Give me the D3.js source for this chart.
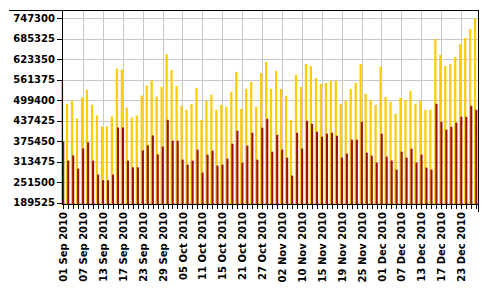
<!DOCTYPE html>
<html>
<head>
<meta charset="utf-8">
<script src="https://cdn.jsdelivr.net/npm/d3@7/dist/d3.min.js"></script>
<style>
  body { margin: 0; background: #fff; }
  svg text { font-family: "DejaVu Sans", sans-serif; font-weight: bold; font-size: 10px; fill: #000; }
</style>
</head>
<body>
<div id="chart"></div>
<script>
/***** Données *****/
var dates = [
  "01 Sep 2010", "02 Sep 2010", "03 Sep 2010", "06 Sep 2010", "07 Sep 2010", "08 Sep 2010", "09 Sep 2010", "10 Sep 2010",
  "13 Sep 2010", "14 Sep 2010", "15 Sep 2010", "16 Sep 2010", "17 Sep 2010", "20 Sep 2010", "21 Sep 2010", "22 Sep 2010",
  "23 Sep 2010", "24 Sep 2010", "27 Sep 2010", "28 Sep 2010", "29 Sep 2010", "30 Sep 2010", "01 Oct 2010", "04 Oct 2010",
  "05 Oct 2010", "06 Oct 2010", "07 Oct 2010", "08 Oct 2010", "11 Oct 2010", "12 Oct 2010", "13 Oct 2010", "14 Oct 2010",
  "15 Oct 2010", "18 Oct 2010", "19 Oct 2010", "20 Oct 2010", "21 Oct 2010", "22 Oct 2010", "25 Oct 2010", "26 Oct 2010",
  "27 Oct 2010", "28 Oct 2010", "29 Oct 2010", "01 Nov 2010", "02 Nov 2010", "03 Nov 2010", "08 Nov 2010", "09 Nov 2010",
  "10 Nov 2010", "11 Nov 2010", "12 Nov 2010", "13 Nov 2010", "15 Nov 2010", "16 Nov 2010", "17 Nov 2010", "18 Nov 2010",
  "19 Nov 2010", "22 Nov 2010", "23 Nov 2010", "24 Nov 2010", "25 Nov 2010", "26 Nov 2010", "29 Nov 2010", "30 Nov 2010",
  "01 Dec 2010", "02 Dec 2010", "03 Dec 2010", "06 Dec 2010", "07 Dec 2010", "08 Dec 2010", "09 Dec 2010", "10 Dec 2010",
  "13 Dec 2010", "14 Dec 2010", "15 Dec 2010", "16 Dec 2010", "17 Dec 2010", "20 Dec 2010", "21 Dec 2010", "22 Dec 2010",
  "23 Dec 2010", "24 Dec 2010", "27 Dec 2010", "28 Dec 2010"
];

// série jaune (haute)
var valeursHautes = [
  560700, 488300, 498300, 443900, 507300, 531500, 485300, 453000, 419800, 419800, 450000, 594800,
  591800, 477100, 447000, 453000, 513400, 543500, 558600, 510300, 539600, 639200, 590900, 542600,
  482300, 470200, 488300, 536600, 440000, 497400, 515500, 470200, 485300, 479300, 524500, 584900,
  473200, 533600, 554700, 479300, 581900, 615100, 533600, 587900, 533600, 512500, 440000, 575800,
  539600, 609000, 603000, 566800, 548700, 551700, 557700, 557700, 488300, 497400, 533600, 551700,
  609000, 518500, 500400, 485300, 600000, 509400, 494300, 458100, 506400, 500400, 527500, 488300,
  497400, 470200, 470200, 684500, 636200, 603000, 609000, 630200, 669400, 687500, 714700, 747300
];

// série rouge (basse)
var valeursBasses = [
  374500, 316300, 332300, 292100, 353400, 371500, 316300, 274000, 256800, 256800, 274000, 416800,
  416800, 316300, 296100, 296100, 347400, 362500, 392600, 335300, 358500, 440000, 376600, 376600,
  319300, 304200, 316300, 349500, 280100, 334400, 346500, 301200, 304200, 322300, 367600, 406800,
  310200, 361600, 400800, 319300, 415900, 443000, 343400, 394700, 349500, 325300, 271000, 400800,
  352500, 437000, 427900, 403800, 388700, 397800, 400800, 391700, 325300, 337400, 379700, 379700,
  434000, 340400, 331400, 310200, 397800, 328400, 316300, 289100, 343400, 325300, 352500, 310200,
  334400, 295200, 289100, 488300, 434000, 409800, 418900, 431000, 449100, 449100, 482300, 470200
];

var yTicks = [189525, 251500, 313475, 375450, 437425, 499400, 561375, 623350, 685325, 747300];

(function () {
  "use strict";

  /***** Configuration *****/
  var width = 495, height = 300;
  var plot = { left: 62, right: 478, top: 10, bottom: 204 };
  var labelEvery = 4;

  var svg = d3.select("#chart")
    .append("svg")
    .attr("width", width)
    .attr("height", height);

  var xScale = d3.scaleBand()
    .domain(dates)
    .range([61, 479]);

  var yScale = d3.scaleLinear()
    .domain([189525, 772400])
    .range([202.5, plot.top]);

  var step = xScale.step();

  /***** Grille *****/
  svg.append("g")
    .selectAll("line")
    .data(yTicks)
    .enter()
    .append("line")
    .attr("x1", plot.left)
    .attr("x2", plot.right)
    .attr("y1", function (d) { return Math.round(yScale(d)) + 0.5; })
    .attr("y2", function (d) { return Math.round(yScale(d)) + 0.5; })
    .attr("stroke", "#c8c8c8");

  svg.append("g")
    .selectAll("line")
    .data(dates.filter(function (d, i) { return i > 0 && i % labelEvery === 0; }))
    .enter()
    .append("line")
    .attr("x1", function (d) { return Math.round(xScale(d) + 2) + 0.5; })
    .attr("x2", function (d) { return Math.round(xScale(d) + 2) + 0.5; })
    .attr("y1", plot.top)
    .attr("y2", plot.bottom)
    .attr("stroke", "#c8c8c8");

  /***** Barres *****/
  svg.append("g")
    .selectAll("rect")
    .data(dates)
    .enter()
    .append("rect")
    .attr("x", function (d) { return xScale(d); })
    .attr("width", step * 0.44)
    .attr("y", function (d, i) { return yScale(valeursHautes[i]); })
    .attr("height", function (d, i) { return plot.bottom - yScale(valeursHautes[i]); })
    .attr("fill", "#ffcc00");

  svg.append("g")
    .selectAll("rect")
    .data(dates)
    .enter()
    .append("rect")
    .attr("x", function (d) { return xScale(d) + step * 0.24; })
    .attr("width", step * 0.42)
    .attr("y", function (d, i) { return yScale(valeursBasses[i]); })
    .attr("height", function (d, i) { return plot.bottom - yScale(valeursBasses[i]); })
    .attr("fill", "#991100");

  /***** Axes et cadre *****/
  var cadre = svg.append("g").attr("stroke", "#000").attr("fill", "none");
  cadre.append("line").attr("x1", 9).attr("x2", plot.right + 0.5).attr("y1", plot.top + 0.5).attr("y2", plot.top + 0.5);
  cadre.append("line").attr("x1", plot.left + 0.5).attr("x2", plot.left + 0.5).attr("y1", plot.top).attr("y2", plot.bottom);
  cadre.append("line").attr("x1", plot.right + 0.5).attr("x2", plot.right + 0.5).attr("y1", plot.top).attr("y2", 212);
  cadre.append("line").attr("x1", plot.left).attr("x2", plot.right).attr("y1", plot.bottom + 0.5).attr("y2", plot.bottom + 0.5);

  // axe Y (étiquettes à gauche)
  var axeY = svg.append("g");
  axeY.selectAll("line")
    .data(yTicks)
    .enter()
    .append("line")
    .attr("x1", 57)
    .attr("x2", plot.left)
    .attr("y1", function (d) { return Math.round(yScale(d)) + 0.5; })
    .attr("y2", function (d) { return Math.round(yScale(d)) + 0.5; })
    .attr("stroke", "#000");
  axeY.selectAll("text")
    .data(yTicks)
    .enter()
    .append("text")
    .attr("x", 55)
    .attr("y", function (d) { return yScale(d); })
    .attr("dy", "0.36em")
    .attr("text-anchor", "end")
    .text(function (d) { return d; });

  // axe X (dates verticales)
  var axeX = svg.append("g");
  axeX.selectAll("line")
    .data(dates)
    .enter()
    .append("line")
    .attr("x1", function (d) { return Math.round(xScale(d) + 2) + 0.5; })
    .attr("x2", function (d) { return Math.round(xScale(d) + 2) + 0.5; })
    .attr("y1", plot.bottom)
    .attr("y2", plot.bottom + 5)
    .attr("stroke", "#000");
  axeX.selectAll("text")
    .data(dates.filter(function (d, i) { return i % labelEvery === 0; }))
    .enter()
    .append("text")
    .attr("transform", function (d) {
      return "translate(" + (xScale(d) + 2.5) + "," + 212 + ") rotate(-90)";
    })
    .attr("dy", "0.36em")
    .attr("text-anchor", "end")
    .text(function (d) { return d; });
})();
</script>
</body>
</html>
